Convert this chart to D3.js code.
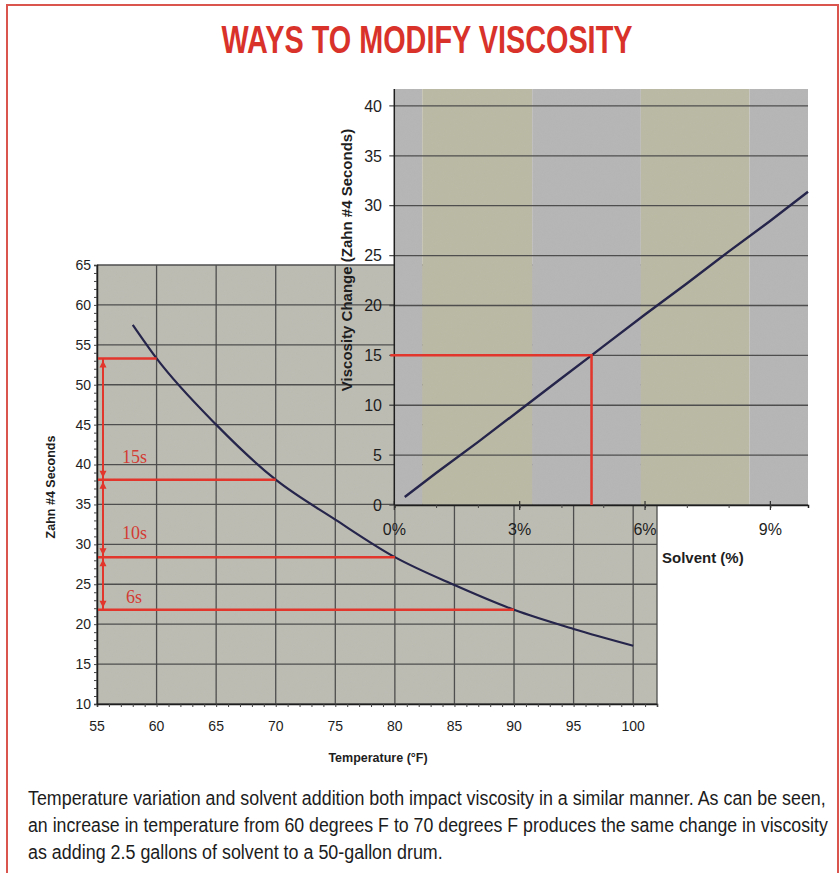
<!DOCTYPE html>
<html>
<head>
<meta charset="utf-8">
<script src="https://cdn.jsdelivr.net/npm/d3@7"></script>
<style>
  body { margin: 0; background: #fff; }
  svg { display: block; }
</style>
</head>
<body>
<div id="chart"></div>
<script>
// temperature chart (left)
const temps = [58, 60, 65, 70, 75, 80, 85, 90, 95, 100]
const zahnSeconds = [57.5, 53.3, 45, 38.1, 33.1, 28.4, 24.9, 21.8, 19.4, 17.3]
const tempTicks = [55, 60, 65, 70, 75, 80, 85, 90, 95, 100]
const zahnTicks = [10, 15, 20, 25, 30, 35, 40, 45, 50, 55, 60, 65]
const markTemps = [60, 70, 80, 90]
const markZahn = [53.3, 38.1, 28.4, 21.8]
const stepLabels = ['15s', '10s', '6s']
const stepLabelAt = [40.2, 30.7, 22.6]

// solvent chart (right)
const solvent = [0.25, 1, 2, 3, 4, 4.72, 5, 6, 7, 8, 9, 9.9]
const viscChange = [0.8, 3.2, 6.3, 9.5, 12.7, 15, 15.9, 19.1, 22.2, 25.4, 28.5, 31.4]
const solventTicks = [0, 3, 6, 9]
const changeTicks = [0, 5, 10, 15, 20, 25, 30, 35, 40]
const markSolvent = 4.72
const markChange = 15
const bandEdges = [0, 0.67, 3.3, 5.9, 8.5, 9.9]

const caption = [
  'Temperature variation and solvent addition both impact viscosity in a similar manner. As can be seen,',
  'an increase in temperature from 60 degrees F to 70 degrees F produces the same change in viscosity',
  'as adding 2.5 gallons of solvent to a 50-gallon drum.'
]
const captionWidths = [798, 800, 415]

const width = 840, height = 873
const red = '#e2352b', grid = '#4e4e4e', ink = '#1e1e1e', curveCol = '#25244a'

let svg = d3.select('#chart').append('svg')
            .attr('width', width)
            .attr('height', height)

// squeeze a text horizontally to a given width (narrow font stand-in)
function squeeze(sel, x, y, target, anchorMid) {
  sel.each(function () {
    let w = this.getComputedTextLength()
    let s = target / w
    let x0 = anchorMid ? x - target / 2 : x
    d3.select(this).attr('x', 0).attr('y', 0)
      .attr('transform', 'translate(' + x0 + ',' + y + ') scale(' + s + ',1)')
  })
}

// grain filter
let defs = svg.append('defs')
let f = defs.append('filter').attr('id', 'grain').attr('x', 0).attr('y', 0).attr('width', '100%').attr('height', '100%')
f.append('feTurbulence').attr('type', 'fractalNoise').attr('baseFrequency', 0.9).attr('numOctaves', 2).attr('seed', 3)
f.append('feColorMatrix').attr('type', 'matrix')
 .attr('values', '0 0 0 0 0.5  0 0 0 0 0.5  0 0 0 0 0.5  0 0 0 0.35 0')
f.append('feComposite').attr('in2', 'SourceGraphic').attr('operator', 'in')

// frame
svg.append('rect')
   .attr('x', 7).attr('y', 5).attr('width', 831).attr('height', 880)
   .attr('fill', 'none').attr('stroke', '#d9554d').attr('stroke-width', 2)

svg.append('text')
   .attr('font-family', 'Liberation Sans, Arial, sans-serif')
   .attr('font-weight', 'bold')
   .attr('font-size', 38)
   .attr('fill', '#d8322b')
   .text('WAYS TO MODIFY VISCOSITY')
   .call(squeeze, 427, 53, 411, true)

// ---------- left chart ----------
let xL = d3.scaleLinear().domain([55, 102]).range([97, 657])
let yL = d3.scaleLinear().domain([10, 65]).range([704, 265])

let left = svg.append('g').attr('class', 'left')

left.append('rect')
    .attr('x', xL(55)).attr('y', yL(65))
    .attr('width', xL(102) - xL(55)).attr('height', yL(10) - yL(65))
    .attr('fill', '#bdbcb2')
left.append('rect')
    .attr('x', xL(55)).attr('y', yL(65))
    .attr('width', xL(102) - xL(55)).attr('height', yL(10) - yL(65))
    .attr('fill', '#bdbcb2').attr('filter', 'url(#grain)').attr('opacity', 0.6)

left.append('g').selectAll('line').data(zahnTicks).join('line')
    .attr('x1', xL(55)).attr('x2', xL(102))
    .attr('y1', d => yL(d)).attr('y2', d => yL(d))
    .attr('stroke', grid).attr('stroke-width', 1.3)
left.append('g').selectAll('line').data(tempTicks.concat([102])).join('line')
    .attr('x1', d => xL(d)).attr('x2', d => xL(d))
    .attr('y1', yL(10)).attr('y2', yL(65))
    .attr('stroke', grid).attr('stroke-width', 1.3)

let xAxisL = d3.axisBottom(xL).tickValues(d3.range(55, 103, 1)).tickSize(3).tickFormat('')
let yAxisL = d3.axisLeft(yL).tickValues(d3.range(10, 66, 1)).tickSize(3).tickFormat('')
left.append('g').attr('transform', 'translate(0,' + yL(10) + ')').call(xAxisL)
    .call(g => g.select('.domain').attr('stroke', ink).attr('stroke-width', 1.5))
    .call(g => g.selectAll('.tick line').attr('stroke', '#444'))
left.append('g').attr('transform', 'translate(' + xL(55) + ',0)').call(yAxisL)
    .call(g => g.select('.domain').attr('stroke', ink).attr('stroke-width', 1.5))
    .call(g => g.selectAll('.tick line').attr('stroke', '#444'))

left.append('g').selectAll('text').data(tempTicks).join('text')
    .attr('x', d => xL(d)).attr('y', 731)
    .attr('text-anchor', 'middle')
    .attr('font-family', 'Liberation Sans, Arial, sans-serif')
    .attr('font-size', 14).attr('fill', ink)
    .text(d => d)
left.append('g').selectAll('text').data(zahnTicks).join('text')
    .attr('x', 91).attr('y', d => yL(d)).attr('dy', '0.35em')
    .attr('text-anchor', 'end')
    .attr('font-family', 'Liberation Sans, Arial, sans-serif')
    .attr('font-size', 14).attr('fill', ink)
    .text(d => d)

left.append('text')
    .attr('x', 378).attr('y', 762)
    .attr('text-anchor', 'middle')
    .attr('font-family', 'Liberation Sans, Arial, sans-serif')
    .attr('font-weight', 'bold').attr('font-size', 12.5).attr('fill', ink)
    .text('Temperature (°F)')
left.append('text')
    .attr('transform', 'translate(55,487) rotate(-90)')
    .attr('text-anchor', 'middle')
    .attr('font-family', 'Liberation Sans, Arial, sans-serif')
    .attr('font-weight', 'bold').attr('font-size', 12.5).attr('fill', ink)
    .text('Zahn #4 Seconds')

let lineL = d3.line().x((d, i) => xL(temps[i])).y(d => yL(d)).curve(d3.curveMonotoneX)
left.append('path')
    .datum(zahnSeconds)
    .attr('d', lineL)
    .attr('fill', 'none').attr('stroke', curveCol).attr('stroke-width', 2.2)

// red marks
let arrowX = 103
left.append('g').selectAll('line').data(markTemps).join('line')
    .attr('x1', 98).attr('x2', d => xL(d))
    .attr('y1', (d, i) => yL(markZahn[i])).attr('y2', (d, i) => yL(markZahn[i]))
    .attr('stroke', red).attr('stroke-width', 2.5)
left.append('line')
    .attr('x1', arrowX).attr('x2', arrowX)
    .attr('y1', yL(markZahn[0])).attr('y2', yL(markZahn[3]))
    .attr('stroke', red).attr('stroke-width', 2)

let heads = []
for (let i = 0; i < 3; i++) {
  heads.push({ y: yL(markZahn[i]), dir: -1 })
  heads.push({ y: yL(markZahn[i + 1]), dir: 1 })
}
left.append('g').selectAll('path').data(heads).join('path')
    .attr('d', d => {
      let tip = d.y - d.dir * 2, base = tip - d.dir * 7
      return 'M' + arrowX + ',' + tip + 'L' + (arrowX - 3.5) + ',' + base + 'L' + (arrowX + 3.5) + ',' + base + 'Z'
    })
    .attr('fill', red)

left.append('g').selectAll('text').data(stepLabels).join('text')
    .attr('x', (d, i) => i === 2 ? 126 : 122).attr('y', (d, i) => yL(stepLabelAt[i]))
    .attr('font-family', '"Liberation Serif", "Times New Roman", serif')
    .attr('font-size', 18).attr('fill', '#d23c34')
    .text(d => d)

// ---------- right chart ----------
let xR = d3.scaleLinear().domain([0, 9.9]).range([394.3, 808])
let yR = d3.scaleLinear().domain([0, 41.7]).range([505, 89])

let right = svg.append('g').attr('class', 'right')
let bands = d3.pairs(bandEdges)
right.append('g').selectAll('rect').data(bands).join('rect')
    .attr('x', d => xR(d[0])).attr('y', yR(41.7))
    .attr('width', d => xR(d[1]) - xR(d[0])).attr('height', yR(0) - yR(41.7))
    .attr('fill', (d, i) => i % 2 ? '#bab9a2' : '#b6b5b5')
right.append('rect')
    .attr('x', xR(0)).attr('y', yR(41.7))
    .attr('width', xR(9.9) - xR(0)).attr('height', yR(0) - yR(41.7))
    .attr('fill', '#b8b7aa').attr('filter', 'url(#grain)').attr('opacity', 0.6)

right.append('g').selectAll('line').data(changeTicks).join('line')
    .attr('x1', xR(0) - 5).attr('x2', xR(9.9))
    .attr('y1', d => yR(d)).attr('y2', d => yR(d))
    .attr('stroke', grid).attr('stroke-width', 1.3)

let xAxisR = d3.axisBottom(xR).tickValues(d3.range(0, 10, 1)).tickSize(3).tickFormat('')
right.append('g').attr('transform', 'translate(0,' + yR(0) + ')').call(xAxisR)
    .call(g => g.select('.domain').attr('stroke', ink).attr('stroke-width', 1.5))
    .call(g => g.selectAll('.tick line').attr('stroke', '#444'))
right.append('g').selectAll('line').data(solventTicks).join('line')
    .attr('x1', d => xR(d)).attr('x2', d => xR(d))
    .attr('y1', yR(0) - 4).attr('y2', yR(0) + 5)
    .attr('stroke', '#333').attr('stroke-width', 1.2)
right.append('line')
    .attr('x1', xR(0)).attr('x2', xR(0))
    .attr('y1', yR(0)).attr('y2', yR(41.7))
    .attr('stroke', ink).attr('stroke-width', 1.5)

right.append('g').selectAll('text').data(solventTicks).join('text')
    .attr('x', d => xR(d)).attr('y', 535)
    .attr('text-anchor', 'middle')
    .attr('font-family', 'Liberation Sans, Arial, sans-serif')
    .attr('font-size', 16).attr('fill', ink)
    .text(d => d + '%')
right.append('g').selectAll('text').data(changeTicks).join('text')
    .attr('x', 382).attr('y', d => yR(d)).attr('dy', '0.36em')
    .attr('text-anchor', 'end')
    .attr('font-family', 'Liberation Sans, Arial, sans-serif')
    .attr('font-size', 16).attr('fill', ink)
    .text(d => d)

right.append('text')
    .attr('x', 662).attr('y', 563)
    .attr('font-family', 'Liberation Sans, Arial, sans-serif')
    .attr('font-weight', 'bold').attr('font-size', 15).attr('fill', ink)
    .text('Solvent (%)')
right.append('text')
    .attr('transform', 'translate(352,260) rotate(-90)')
    .attr('text-anchor', 'middle')
    .attr('font-family', 'Liberation Sans, Arial, sans-serif')
    .attr('font-weight', 'bold').attr('font-size', 15).attr('fill', ink)
    .text('Viscosity Change (Zahn #4 Seconds)')

let lineR = d3.line().x((d, i) => xR(solvent[i])).y(d => yR(d))
right.append('path')
    .datum(viscChange)
    .attr('d', lineR)
    .attr('fill', 'none').attr('stroke', curveCol).attr('stroke-width', 2.4)

right.append('path')
    .attr('d', 'M' + (xR(0) - 4) + ',' + yR(markChange) + 'H' + xR(markSolvent) + 'V' + yR(0))
    .attr('fill', 'none').attr('stroke', red).attr('stroke-width', 2.5)

// ---------- caption ----------
svg.append('g').selectAll('text').data(caption).join('text')
   .attr('font-family', 'Liberation Sans, Arial, sans-serif')
   .attr('font-size', 21).attr('fill', '#1c1c1c')
   .text(d => d)
   .each(function (d, i) {
     d3.select(this).call(squeeze, 28, 805 + i * 27, captionWidths[i], false)
   })
</script>
</body>
</html>
